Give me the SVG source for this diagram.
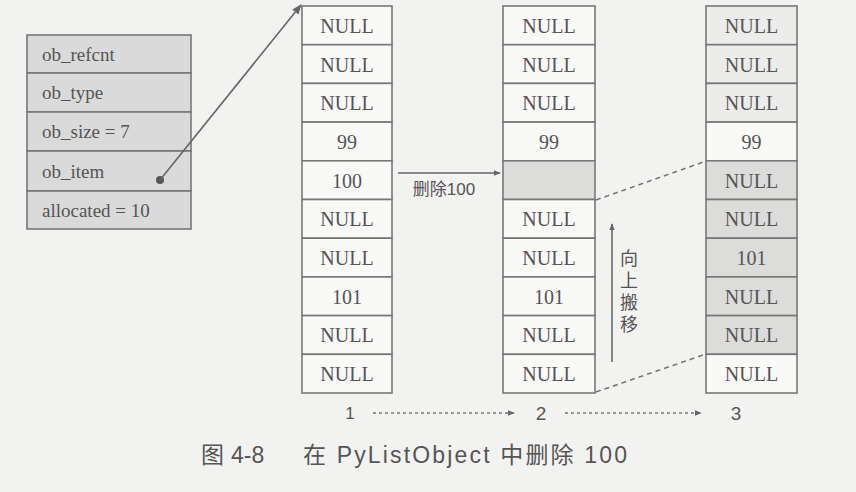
<svg xmlns="http://www.w3.org/2000/svg" width="856" height="492" viewBox="0 0 856 492">
<style>
.bg{fill:#f2f2f1}
.cell{fill:#f9f9f8;stroke:#777;stroke-width:1.6}
.lt{fill:#ececeb;stroke:#777;stroke-width:1.6}
.sh{fill:#dcdcdb;stroke:#777;stroke-width:1.6}
.st{fill:#dadada;stroke:#777;stroke-width:1.6}
.t{font-family:"Liberation Serif","DejaVu Serif",serif;font-size:20px;fill:#555;text-anchor:middle}
.s{font-family:"Liberation Serif","DejaVu Serif",serif;font-size:19px;fill:#555}
.cn{font-family:"Liberation Sans","Noto Sans CJK SC",sans-serif;fill:#555}
.ln{stroke:#666;stroke-width:1.6;fill:none}
.ds{stroke:#777;stroke-width:1.6;fill:none;stroke-dasharray:5 4}
.dt{stroke:#777;stroke-width:1.5;fill:none;stroke-dasharray:3 3}
</style>
<defs>
<marker id="ah" viewBox="0 0 10 10" refX="9" refY="5" markerWidth="7" markerHeight="7" orient="auto" markerUnits="userSpaceOnUse">
<path d="M0,1 L10,5 L0,9 Z" fill="#666"/>
</marker>
<marker id="ahs" viewBox="0 0 10 10" refX="9" refY="5" markerWidth="10" markerHeight="10" orient="auto" markerUnits="userSpaceOnUse">
<path d="M0,1 L10,5 L0,9 Z" fill="#666"/>
</marker>
</defs>
<rect class="bg" x="0" y="0" width="856" height="492"/>

<g id="pylistobject">
<rect class="st" x="27" y="35" width="164" height="38"/>
<rect class="st" x="27" y="73" width="164" height="39"/>
<rect class="st" x="27" y="112" width="164" height="39"/>
<rect class="st" x="27" y="151" width="164" height="40"/>
<rect class="st" x="27" y="191" width="164" height="38"/>
<text class="s" x="42" y="61">ob_refcnt</text>
<text class="s" x="42" y="99">ob_type</text>
<text class="s" x="42" y="138">ob_size = 7</text>
<text class="s" x="42" y="178">ob_item</text>
<text class="s" x="42" y="217">allocated = 10</text>
<circle cx="160" cy="180" r="4" fill="#555"/>
</g>

<g id="list1">
<rect class="cell" x="302" y="6" width="90" height="38.7"/>
<rect class="cell" x="302" y="44.7" width="90" height="38.7"/>
<rect class="cell" x="302" y="83.4" width="90" height="38.7"/>
<rect class="cell" x="302" y="122.1" width="90" height="38.7"/>
<rect class="cell" x="302" y="160.8" width="90" height="38.7"/>
<rect class="cell" x="302" y="199.5" width="90" height="38.7"/>
<rect class="cell" x="302" y="238.2" width="90" height="38.7"/>
<rect class="cell" x="302" y="276.9" width="90" height="38.7"/>
<rect class="cell" x="302" y="315.6" width="90" height="38.7"/>
<rect class="cell" x="302" y="354.3" width="90" height="38.7"/>
<text class="t" x="347" y="33">NULL</text>
<text class="t" x="347" y="71.5">NULL</text>
<text class="t" x="347" y="110">NULL</text>
<text class="t" x="347" y="149">99</text>
<text class="t" x="347" y="187.5">100</text>
<text class="t" x="347" y="226">NULL</text>
<text class="t" x="347" y="265">NULL</text>
<text class="t" x="347" y="303.5">101</text>
<text class="t" x="347" y="342">NULL</text>
<text class="t" x="347" y="381">NULL</text>
</g>

<g id="list2">
<rect class="cell" x="503" y="6" width="92" height="38.7"/>
<rect class="cell" x="503" y="44.7" width="92" height="38.7"/>
<rect class="cell" x="503" y="83.4" width="92" height="38.7"/>
<rect class="cell" x="503" y="122.1" width="92" height="38.7"/>
<rect class="sh" x="503" y="160.8" width="92" height="38.7"/>
<rect class="cell" x="503" y="199.5" width="92" height="38.7"/>
<rect class="cell" x="503" y="238.2" width="92" height="38.7"/>
<rect class="cell" x="503" y="276.9" width="92" height="38.7"/>
<rect class="cell" x="503" y="315.6" width="92" height="38.7"/>
<rect class="cell" x="503" y="354.3" width="92" height="38.7"/>
<text class="t" x="549" y="33">NULL</text>
<text class="t" x="549" y="71.5">NULL</text>
<text class="t" x="549" y="110">NULL</text>
<text class="t" x="549" y="149">99</text>
<text class="t" x="549" y="226">NULL</text>
<text class="t" x="549" y="265">NULL</text>
<text class="t" x="549" y="303.5">101</text>
<text class="t" x="549" y="342">NULL</text>
<text class="t" x="549" y="381">NULL</text>
</g>

<g id="list3">
<rect class="lt" x="706" y="6" width="91" height="38.7"/>
<rect class="lt" x="706" y="44.7" width="91" height="38.7"/>
<rect class="lt" x="706" y="83.4" width="91" height="38.7"/>
<rect class="cell" x="706" y="122.1" width="91" height="38.7"/>
<rect class="sh" x="706" y="160.8" width="91" height="38.7"/>
<rect class="sh" x="706" y="199.5" width="91" height="38.7"/>
<rect class="sh" x="706" y="238.2" width="91" height="38.7"/>
<rect class="sh" x="706" y="276.9" width="91" height="38.7"/>
<rect class="sh" x="706" y="315.6" width="91" height="38.7"/>
<rect class="cell" x="706" y="354.3" width="91" height="38.7"/>
<text class="t" x="751.5" y="33">NULL</text>
<text class="t" x="751.5" y="71.5">NULL</text>
<text class="t" x="751.5" y="110">NULL</text>
<text class="t" x="751.5" y="149">99</text>
<text class="t" x="751.5" y="187.5">NULL</text>
<text class="t" x="751.5" y="226">NULL</text>
<text class="t" x="751.5" y="265">101</text>
<text class="t" x="751.5" y="303.5">NULL</text>
<text class="t" x="751.5" y="342">NULL</text>
<text class="t" x="751.5" y="381">NULL</text>
</g>

<g id="connectors">
<line class="ln" x1="160" y1="180" x2="301" y2="5" marker-end="url(#ahs)"/>
<line class="ln" x1="398" y1="173" x2="500" y2="173" marker-end="url(#ah)"/>
<line class="ln" x1="612" y1="362" x2="612" y2="224" marker-end="url(#ah)"/>
<line class="ds" x1="596" y1="200" x2="706" y2="161"/>
<line class="ds" x1="596" y1="392" x2="706" y2="354"/>
<line class="dt" x1="373" y1="413" x2="514" y2="413" marker-end="url(#ah)"/>
<line class="dt" x1="565" y1="413" x2="701" y2="413" marker-end="url(#ah)"/>
</g>

<g id="labels">
<text class="cn" x="444" y="195" font-size="17" text-anchor="middle">删除100</text>
<text class="cn" x="629" y="265" font-size="18" text-anchor="middle">向</text>
<text class="cn" x="629" y="287" font-size="18" text-anchor="middle">上</text>
<text class="cn" x="629" y="309" font-size="18" text-anchor="middle">搬</text>
<text class="cn" x="629" y="331" font-size="18" text-anchor="middle">移</text>
<text class="cn" x="350" y="419" font-size="17" text-anchor="middle">1</text>
<text class="cn" x="541" y="420" font-size="19" text-anchor="middle">2</text>
<text class="cn" x="736" y="420" font-size="19" text-anchor="middle">3</text>
<text class="cn" font-size="23" y="463"><tspan x="201">图</tspan><tspan x="231">4-8</tspan><tspan x="303" textLength="324" lengthAdjust="spacing">在 PyListObject 中删除 100</tspan></text>
</g>
</svg>
